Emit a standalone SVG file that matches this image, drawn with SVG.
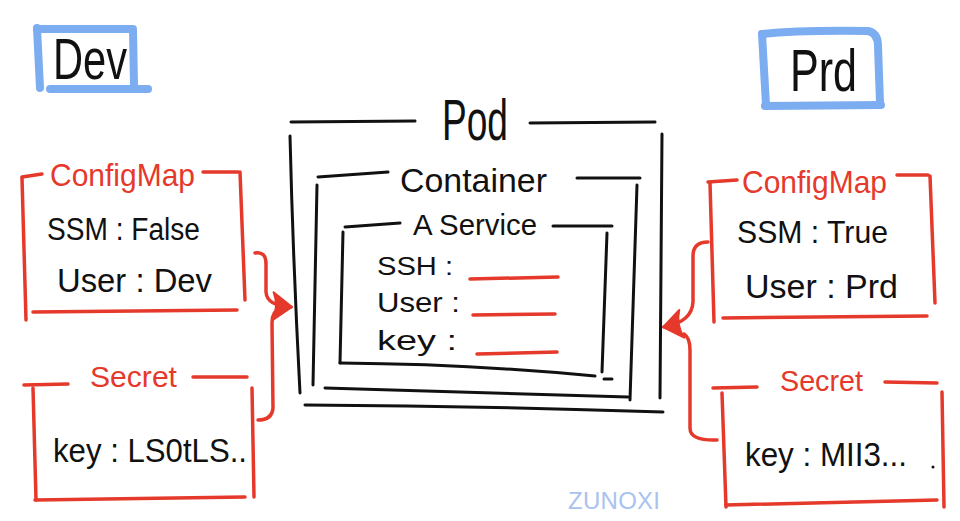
<svg xmlns="http://www.w3.org/2000/svg" width="960" height="521" viewBox="0 0 960 521">
  <style>
    .k{fill:none;stroke:#111;stroke-width:3;stroke-linecap:round;stroke-linejoin:round}
    .r{fill:none;stroke:#e5392b;stroke-width:3.5;stroke-linecap:round;stroke-linejoin:round}
    .b{fill:none;stroke:#7dadf1;stroke-width:8;stroke-linecap:round;stroke-linejoin:round}
    .t{font-family:"Liberation Sans",Arial,sans-serif;fill:#111}
    .tr{font-family:"Liberation Sans",Arial,sans-serif;fill:#e5392b}
    .wm{font-family:"Liberation Sans",Arial,sans-serif;fill:#a9c2ef;font-size:24px;letter-spacing:3px}
  </style>
  <defs>
    <marker id="arrow" viewBox="0 0 22 32" refX="20" refY="16" markerWidth="22" markerHeight="32" orient="auto" markerUnits="userSpaceOnUse">
      <path d="M2 2 L21 16 L2 30 Q8 16 2 2 Z" fill="#e5392b" stroke="#e5392b" stroke-width="2" stroke-linejoin="round"/>
    </marker>
  </defs>
  <rect width="960" height="521" fill="#fff"/>

  <g id="dev-label">
    <path class="b" d="M37 28 L40 88"/>
    <path class="b" d="M37 29 L133 29 L134 86"/>
    <path class="b" d="M50 89 L148 89"/>
    <text class="t" x="53" y="79" font-size="58" textLength="74" lengthAdjust="spacingAndGlyphs">Dev</text>
  </g>

  <g id="prd-label">
    <path class="b" d="M762 34 L766 105"/>
    <path class="b" d="M762 34 Q800 30 868 31 Q878 33 878 46 L880 103"/>
    <path class="b" d="M765 106 L881 105"/>
    <text class="t" x="790" y="91" font-size="60" textLength="67" lengthAdjust="spacingAndGlyphs">Prd</text>
  </g>

  <g id="pod">
    <path class="k" d="M291 122 L415 121"/>
    <path class="k" d="M530 123 L655 122"/>
    <path class="k" d="M290 136 Q293 260 300 393"/>
    <path class="k" d="M662 134 L660 398"/>
    <path class="k" d="M305 405 Q480 406 663 412"/>
    <text class="t" x="442" y="140" font-size="58" textLength="66" lengthAdjust="spacingAndGlyphs">Pod</text>
  </g>

  <g id="container">
    <path class="k" d="M318 177 L388 172"/>
    <path class="k" d="M577 178 L640 178"/>
    <path class="k" d="M317 185 L313 385"/>
    <path class="k" d="M637 185 L630 400"/>
    <path class="k" d="M325 388 L628 397"/>
    <text class="t" x="400" y="192" font-size="34" textLength="147" lengthAdjust="spacingAndGlyphs">Container</text>
  </g>

  <g id="service">
    <path class="k" d="M345 227 L400 223"/>
    <path class="k" d="M553 226 L612 226"/>
    <path class="k" d="M343 232 L340 363"/>
    <path class="k" d="M607 233 L602 372"/>
    <path class="k" d="M340 363 Q470 364 595 376"/>
    <path class="k" d="M604 379 L612 379"/>
    <text class="t" x="413" y="235" font-size="30" textLength="124" lengthAdjust="spacingAndGlyphs">A Service</text>
    <text class="t" x="377" y="275" font-size="25" textLength="76" lengthAdjust="spacingAndGlyphs">SSH :</text>
    <text class="t" x="377" y="312" font-size="27" textLength="83" lengthAdjust="spacingAndGlyphs">User :</text>
    <text class="t" x="377" y="350" font-size="28" textLength="80" lengthAdjust="spacingAndGlyphs">key :</text>
    <path class="r" d="M470 279 L558 277"/>
    <path class="r" d="M473 315 L555 314"/>
    <path class="r" d="M477 354 L557 352"/>
  </g>

  <g id="dev-configmap">
    <path class="r" d="M22 177 L42 174"/>
    <path class="r" d="M203 172 L238 172"/>
    <path class="r" d="M22 178 L26 320"/>
    <path class="r" d="M240 172 L245 300"/>
    <path class="r" d="M33 312 L237 310"/>
    <text class="tr" x="50" y="186" font-size="32" textLength="145" lengthAdjust="spacingAndGlyphs">ConfigMap</text>
    <text class="t" x="47" y="240" font-size="31" textLength="153" lengthAdjust="spacingAndGlyphs">SSM : False</text>
    <text class="t" x="57" y="292" font-size="33" textLength="155" lengthAdjust="spacingAndGlyphs">User : Dev</text>
  </g>

  <g id="dev-secret">
    <path class="r" d="M24 385 L68 384"/>
    <path class="r" d="M193 377 L247 377"/>
    <path class="r" d="M33 388 L36 500"/>
    <path class="r" d="M252 388 L254 497"/>
    <path class="r" d="M35 500 L245 497"/>
    <text class="tr" x="90" y="387" font-size="30" textLength="87" lengthAdjust="spacingAndGlyphs">Secret</text>
    <text class="t" x="53" y="462" font-size="34" textLength="194" lengthAdjust="spacingAndGlyphs">key : LS0tLS..</text>
  </g>

  <g id="prd-configmap">
    <path class="r" d="M708 182 L737 180"/>
    <path class="r" d="M897 175 L928 175"/>
    <path class="r" d="M710 183 L714 322"/>
    <path class="r" d="M930 176 L935 303"/>
    <path class="r" d="M723 318 L927 316"/>
    <text class="tr" x="742" y="193" font-size="32" textLength="145" lengthAdjust="spacingAndGlyphs">ConfigMap</text>
    <text class="t" x="737" y="243" font-size="32" textLength="151" lengthAdjust="spacingAndGlyphs">SSM : True</text>
    <text class="t" x="745" y="298" font-size="33" textLength="153" lengthAdjust="spacingAndGlyphs">User : Prd</text>
  </g>

  <g id="prd-secret">
    <path class="r" d="M713 388 L757 387"/>
    <path class="r" d="M885 382 L937 383"/>
    <path class="r" d="M722 393 L726 507"/>
    <path class="r" d="M942 392 L944 507"/>
    <path class="r" d="M726 505 L937 500"/>
    <text class="tr" x="780" y="391" font-size="30" textLength="83" lengthAdjust="spacingAndGlyphs">Secret</text>
    <text class="t" x="745" y="466" font-size="34" textLength="162" lengthAdjust="spacingAndGlyphs">key : MII3...</text>
    <circle cx="933" cy="467" r="1.5" fill="#111"/>
  </g>

  <g id="connectors">
    <path class="r" d="M255 253 Q266 251 266 264 L266 292 Q267 306 291 307" marker-end="url(#arrow)"/>
    <path class="r" d="M280 309 Q272 311 272 323 L273 408 Q272 420 258 420"/>
    <path class="r" d="M708 242 Q693 242 693 256 L693 302 Q692 322 664 327" marker-end="url(#arrow)"/>
    <path class="r" d="M684 334 Q690 338 690 350 L690 428 Q690 441 717 440"/>
  </g>

  <text class="wm" x="568" y="509" textLength="95" lengthAdjust="spacing">ZUNOXI</text>
</svg>
